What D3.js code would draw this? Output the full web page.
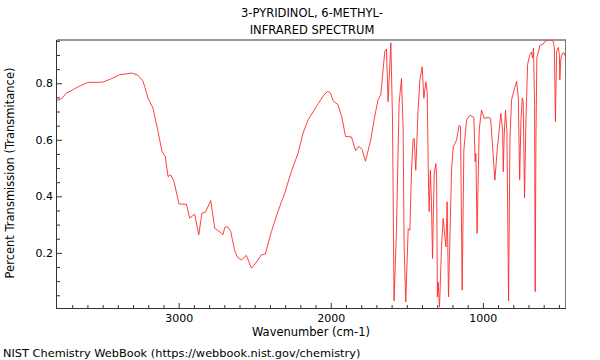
<!DOCTYPE html>
<html><head><meta charset="utf-8">
<script src="https://cdn.jsdelivr.net/npm/d3@7"></script>
<style>
html,body{margin:0;padding:0;background:#fff;}
text{font-family:"DejaVu Sans",sans-serif;fill:#000;}
</style></head>
<body>
<svg id="chart" width="600" height="360"></svg>
<script>
const titleLines = ["3-PYRIDINOL, 6-METHYL-", "INFRARED SPECTRUM"];
const xLabel = "Wavenumber (cm-1)";
const yLabel = "Percent Transmission (Transmitance)";
const footer = "NIST Chemistry WebBook (https://webbook.nist.gov/chemistry)";
const xTickValues = [3000, 2000, 1000];
const yTickValues = [0.2, 0.4, 0.6, 0.8];

const wavenumbers = [
 3800,3772,3739,3706,3662,3597,3553,3498,3443,3388,3311,3272,3235,3224,3202,3169,3136,3110,3088,3070,
 3053,3031,2998,2949,2928,2895,2868,2847,2824,2789,2763,2719,2709,2697,2680,2658,2632,2614,2588,2555,
 2522,2489,2456,2430,2390,2347,2303,2259,2215,2182,2149,2094,2051,2022,2007,2000,1985,1952,1926,1903,
 1864,1837,1816,1794,1772,1737,1711,1689,1671,1645,1634,1623,1605,1594,1584,1568,1551,1535,1524,1518,
 1507,1491,1480,1469,1459,1452,1441,1426,1414,1399,1388,1375,1366,1357,1353,1345,1338,1331,1320,1309,
 1304,1299,1294,1285,1272,1261,1250,1243,1235,1226,1206,1195,1173,1156,1147,1136,1125,1107,1086,1059,
 1051,1046,1038,1024,1009,991,965,949,921,906,882,870,866,860,851,842,831,822,811,794,
 778,767,758,750,741,735,726,717,706,691,680,673,667,660,656,651,645,625,603,588,
 559,537,530,523,515,504,497,494,487,476,466,457
];
const transmittance = [
 0.740,0.744,0.765,0.774,0.787,0.803,0.803,0.804,0.816,0.830,0.836,0.830,0.808,0.789,0.748,0.712,0.630,0.559,0.541,0.470,
 0.476,0.453,0.373,0.372,0.323,0.337,0.264,0.341,0.344,0.385,0.287,0.270,0.264,0.290,0.293,0.276,0.208,0.185,0.175,0.191,
 0.146,0.167,0.193,0.196,0.276,0.347,0.411,0.488,0.553,0.624,0.671,0.718,0.754,0.771,0.768,0.762,0.738,0.724,0.677,0.612,
 0.610,0.562,0.577,0.565,0.524,0.600,0.683,0.742,0.759,0.913,0.921,0.735,0.943,0.670,0.030,0.280,0.729,0.817,0.634,0.233,
 0.027,0.286,0.280,0.493,0.599,0.605,0.492,0.705,0.811,0.858,0.747,0.805,0.770,0.422,0.346,0.493,0.378,0.180,0.481,0.516,
 0.460,0.044,0.097,0.009,0.221,0.322,0.257,0.221,0.381,0.044,0.493,0.575,0.599,0.652,0.646,0.068,0.564,0.670,0.687,0.679,
 0.522,0.552,0.269,0.634,0.705,0.676,0.679,0.676,0.457,0.564,0.693,0.634,0.487,0.613,0.705,0.630,0.030,0.606,0.742,0.777,
 0.807,0.748,0.459,0.665,0.748,0.736,0.394,0.665,0.866,0.901,0.910,0.889,0.925,0.724,0.063,0.606,0.889,0.934,0.939,0.950,
 0.954,0.948,0.925,0.665,0.913,0.927,0.901,0.812,0.889,0.907,0.907,0.895
];

const svg = d3.select("#chart");
const pl = 57, pr = 565, pt = 40, pb = 308;

const x = d3.scaleLinear().domain([3800, 460]).range([pl, pr]);
const y = d3.scaleLinear().domain([0.005, 0.953]).range([pb, pt]);

svg.append("defs").append("clipPath").attr("id","clip")
  .append("rect").attr("x",pl).attr("y",pt).attr("width",pr-pl).attr("height",pb-pt);

// frame top/right
svg.append("line").attr("x1",pl).attr("x2",pr+1).attr("y1",pt).attr("y2",pt)
  .attr("stroke","#999").attr("stroke-width",2);
svg.append("line").attr("x1",pr+0.5).attr("x2",pr+0.5).attr("y1",pt).attr("y2",pb)
  .attr("stroke","#777").attr("stroke-width",1);

// data line
const pts = wavenumbers.map((w,i)=>[w, transmittance[i]]);
svg.append("path").datum(pts)
  .attr("clip-path","url(#clip)")
  .attr("fill","none").attr("stroke","#ff2a2a").attr("stroke-width",0.9)
  .attr("stroke-linejoin","round")
  .attr("d", d3.line().x(d=>x(d[0])).y(d=>y(d[1])));

// bottom axis
const minorX = d3.range(3700, 459, -100).filter(v=>!xTickValues.includes(v));
const gx = svg.append("g").attr("transform",`translate(0,${pb})`);
gx.call(d3.axisBottom(x).tickValues(minorX).tickSize(-3).tickFormat(""));
gx.selectAll(".tick line").attr("stroke","#333");
const gx2 = svg.append("g").attr("transform",`translate(0,${pb})`);
gx2.call(d3.axisBottom(x).tickValues(xTickValues).tickSizeInner(-5).tickSizeOuter(0).tickPadding(6).tickFormat(d3.format("d")));
gx2.selectAll("text").attr("font-size",11).attr("font-family","DejaVu Sans").attr("fill","#000");
gx2.selectAll(".tick line").attr("stroke","#333");
svg.selectAll(".domain").remove();
svg.append("line").attr("x1",pl).attr("x2",pr+1).attr("y1",pb+0.5).attr("y2",pb+0.5).attr("stroke","#333");

// left axis
const minorY = d3.range(0.05, 0.951, 0.05).map(v=>+v.toFixed(2)).filter(v=>!yTickValues.includes(v));
const gy = svg.append("g").attr("transform",`translate(${pl},0)`);
gy.call(d3.axisLeft(y).tickValues(minorY).tickSize(-3).tickFormat(""));
gy.selectAll(".tick line").attr("stroke","#333");
const gy2 = svg.append("g").attr("transform",`translate(${pl},0)`);
gy2.call(d3.axisLeft(y).tickValues(yTickValues).tickSizeInner(-5).tickSizeOuter(0).tickPadding(4).tickFormat(d3.format(".1f")));
gy2.selectAll("text").attr("font-size",11).attr("font-family","DejaVu Sans").attr("fill","#000");
gy2.selectAll(".tick line").attr("stroke","#333");
svg.selectAll(".domain").remove();
svg.append("line").attr("x1",pl-0.5).attr("x2",pl-0.5).attr("y1",pt).attr("y2",pb+1).attr("stroke","#333");

// titles
svg.selectAll(".title").data(titleLines).enter().append("text")
  .attr("x",312).attr("y",(d,i)=>17+i*17).attr("text-anchor","middle").attr("font-size",11.5).text(d=>d);
svg.append("text").attr("x",311).attr("y",336).attr("text-anchor","middle").attr("font-size",11.5).text(xLabel);
svg.append("text").attr("transform","translate(14,173) rotate(-90)").attr("text-anchor","middle").attr("font-size",11.5).text(yLabel);
svg.append("text").attr("x",3).attr("y",357).attr("font-size",11.35).text(footer);
</script>
</body></html>
